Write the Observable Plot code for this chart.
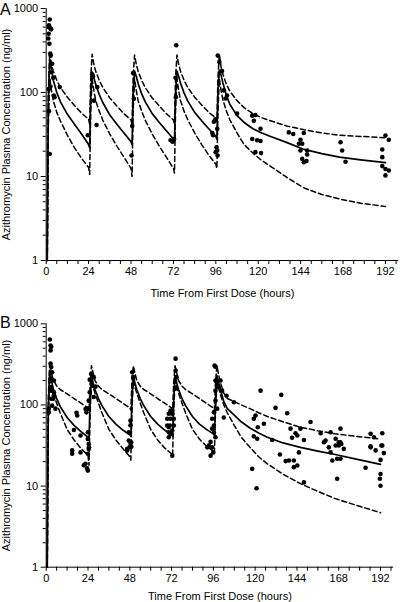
<!DOCTYPE html>
<html><head><meta charset="utf-8">
<script src="https://cdn.jsdelivr.net/npm/d3@7"></script>
<script src="https://cdn.jsdelivr.net/npm/@observablehq/plot@0.6"></script>
<style>
html,body{margin:0;padding:0;background:#fff;}
body{width:400px;height:602px;overflow:hidden;position:relative;font-family:Arial,"Liberation Sans",Helvetica,sans-serif;}
.panel{position:absolute;left:0;width:400px;}
.plabel{position:absolute;left:0;font-size:16px;line-height:16px;color:#000;}
svg{display:block;}
</style></head><body>
<div id="A" class="panel" style="top:0"></div>
<div id="B" class="panel" style="top:300px"></div>
<div class="plabel" style="top:1.5px">A</div>
<div class="plabel" style="top:315px">B</div>
<script>
// ---- axis ticks ----
const yMajor = [1, 10, 100, 1000];
const yMinor = [2,3,4,5,6,7,8,9,20,30,40,50,60,70,80,90,200,300,400,500,600,700,800,900];
const xMajor = [0, 24, 48, 72, 96, 120, 144, 168, 192];
const xMinor = [6,12,18,30,36,42,54,60,66,78,84,90,102,108,114,126,132,138,150,156,162,174,180,186,198];
const yLabel = "Azithromycin Plasma Concentration (ng/ml)";
const xLabel = "Time From First Dose (hours)";

// ---- simulated percentile curves (time grid shared by all curves) ----
const T = [0.6,1.2,2,3,4,6,8,12,16,20,24,
  24.6,25.2,26,27,28,30,32,36,40,44,48,
  48.6,49.2,50,51,52,54,56,60,64,68,72,
  72.6,73.2,74,75,76,78,80,84,88,92,96,
  96.6,97.2,98,99,100,102,104,108,112,117,122,127,136,146,156,166,178,192];

// Panel A
const A_p95 = [1,100,300,215,180,140,115,88,70,57,48,
  42,150,285,215,180,140,115,86,69,56,47,
  41,150,280,215,180,140,115,86,69,56,47,
  42,150,280,215,180,140,116,88,71,58,50,
  45,150,285,200,165,125,103,80,66,56,50,46,40,36,33,31,30,29];
const A_p50 = [1,80,250,190,140,100,78,55,42,32,24,
  22,90,175,150,125,95,76,54,42,33,26,
  24,95,180,155,128,97,78,56,44,35,28,
  26,95,180,155,130,99,80,58,46,37,30,
  28,100,185,160,130,92,72,53,44,37,33,30,25.5,21,18.7,17,15.8,14.6];
const A_p5 = [1,40,150,105,80,58,46,31,22,16.5,12.8,
  10.6,60,145,105,80,60,47,32,23,17,12.5,
  10,60,145,105,80,60,47,32,23,17,12.5,
  11,60,145,105,80,60,48,33,24,18,14,
  12.5,60,145,105,82,60,47,33,24,19,15.5,13.2,9.8,7.3,6.1,5.4,4.8,4.4];

// Panel B
const B_p95 = [1,120,330,250,205,172,155,137,120,105,92,
  85,180,305,245,200,170,155,137,120,105,92,
  86,185,305,245,200,170,155,137,120,105,92,
  86,185,305,245,200,170,155,137,120,105,92,
  86,185,305,240,190,140,120,110,100,90,80,72,62,53,48,44,41,38];
const B_p50 = [1,90,260,200,160,120,96,70,56,47,40,
  38,110,230,185,155,120,98,72,58,49,43,
  41,110,230,185,155,120,98,72,58,49,43,
  41,110,230,185,155,120,98,72,58,50,44,
  42,110,230,190,155,110,90,75,62,52,45,40,34,30,27,24.5,21.5,18.5];
const B_p5 = [1,60,200,165,140,105,80,50,37,29,24,
  18,80,200,165,140,105,80,50,37,29,23,
  21,80,200,165,140,105,80,50,37,29.5,25,
  23.5,80,200,165,140,105,80,50,38,31,27,
  25,80,200,165,135,100,80,56,40,30,23,18.8,14,10.7,8.6,7.0,5.8,4.7];

// ---- observed concentrations ----
const A_obsT = [2,1.6,1.5,2.4,2.8,1.4,1.2,1.8,2.3,2.6,3.4,2.6,4,1.5,2.4,7.7,4.3,4.7,1.5,2,
  23.5,26,26.5,28.9,27,28.5,
  48.3,49.6,48.7,49.2,
  73.6,73.2,73.4,70.4,71.5,72.4,
  97.1,98,99.5,100.5,101.5,102.4,108,95.8,94.9,94.5,94,96.8,96.4,96.8,97,95.9,
  116.6,118.4,117.5,121.3,116.6,119.4,121.3,118.4,121.6,
  137.3,139.8,145.8,143.9,144.9,143,143.9,147.7,147.7,144.9,145.8,147.3,
  166.6,167.5,169.4,
  192,193.9,190.2,190.2,190.2,192,193.9,192];
const A_obsC = [740,630,600,580,565,500,440,380,290,275,220,175,150,110,118,116,92,88,60,18.5,
  31,165,155,116,80,41,
  17.8,84,40,170,
  365,150,88,27,26,28,
  275,230,180,106,85,92,56,48,45,31,33,37,22.3,20.4,17.8,19.5,
  53,54,46,37,28,27,26.5,19.5,19,
  33.5,32,33,27.3,24.5,24.5,20.4,20.4,18.3,16.2,14.8,15.3,
  25.6,20.4,15,
  30.7,27.3,21,17,13.3,12.3,11.8,10.3];

const B_obsT = [2.1,2.5,2.9,2.5,2.5,2.9,3.4,2.5,4.4,2.5,4.4,2.9,4,1.5,2.5,4.4,3.4,1.5,5.3,
  17.4,17.8,22.6,23.9,25,25.8,27.3,26.4,28.3,25,27.3,24.4,15.9,19.7,23.9,23.9,24.4,24.6,14.9,14.9,19.7,21.6,22.6,23.9,23.5,23.1,24.4,23.9,
  49.4,50,47.4,48.4,48.4,46.5,47.9,48.4,47.4,48.8,46.5,48.9,
  74.3,74.3,74.8,74.3,71.4,72.4,70.4,71.4,71,73.3,72.4,70.4,71.4,70.4,69.5,69.5,71.4,73.3,72.4,70.4,
  96.7,97.2,97.2,98,100.1,99.1,101,97.2,103.6,107.8,97.2,98.2,102,96.3,95.3,96.3,95.3,96.3,97.2,95.3,92.5,94.4,93.4,95.9,94.4,
  123.1,135,131.7,138.4,120.2,119.2,125,121.5,119.2,121.2,129.8,140.3,143.2,146,141.2,144.2,148,151.8,157.6,160.4,163.3,169,166.2,168,169.5,186.3,188.2,193,186.3,193,
  118.3,120.8,134.2,137.5,139.4,142.2,144.2,142.2,145.1,148,159.5,162.3,163.3,164.3,166.2,168,169,170.9,167.1,169,167.1,183.4,186.3,189.2,193.9,192,192,191.6,192,192.5];
const B_obsC = [640,540,520,470,323,293,253,210,200,150,143,119,119,90,166,131,98,81,90,
  80,74,89,90,205,241,220,173,168,143,125,113,49,42,46,38,33,30,27.5,25,26,18,18.8,15.5,16.5,81,28.7,25,
  253,220,46,64,56,28.7,30,33,36.5,34.7,27.5,30.5,
  372,265,220,159,81,78,78,67.5,55.7,55.7,48.4,46,44,40,55.7,67.5,85,67.5,23.7,53,
  305,295,200,195,200,166,150,150,130,108,113,90,70,81,67.5,55.7,51,46,40,30,30,35,31.6,26,23.7,
  150,133,92,79,74,67.5,58.5,53,41,38.3,37,51,44.8,51,39.4,42,37,61.6,44.8,36.5,46,51,38.3,34.7,33,44,40,44.8,31,31.6,
  16.3,9.4,24.5,20.3,20.7,20.7,17.9,17.1,26,11.1,34.7,30,26,20.7,31.6,31.6,34.7,28.7,21.7,21.7,12.3,16.8,30,27.5,25.5,21,14.1,12.3,10.1,31.6];

// ---- build tables ----
const curve = (vals) => T.map((t, i) => ({t, c: vals[i]}));
const obs = (ts, cs) => ts.map((t, i) => ({t, c: cs[i]}));

function panel({p95, p50, p5, obsT, obsC, height, marginTop, marginBottom, marginRight, xLabelOffset}) {
  return Plot.plot({
    width: 400,
    height,
    marginLeft: 45.7,
    marginRight,
    marginTop,
    marginBottom,
    style: {fontFamily: "Arial, 'Liberation Sans', Helvetica, sans-serif", fontSize: "11px", color: "#000", background: "#fff", overflow: "visible"},
    x: {domain: [0, 199.5]},
    y: {type: "log", domain: [1, 1000]},
    marks: [
      Plot.axisY({ticks: yMajor, tickSize: 5, tickPadding: 3, tickFormat: d => String(d),
        label: yLabel, labelAnchor: "center", labelArrow: "none", labelOffset: 44}),
      Plot.axisY({ticks: yMinor, tickSize: 3, tickFormat: () => "", label: null}),
      Plot.axisX({ticks: xMajor, tickSize: 4, tickPadding: 3, tickFormat: d => String(d),
        label: xLabel, labelAnchor: "center", labelArrow: "none", labelOffset: xLabelOffset}),
      Plot.axisX({ticks: xMinor, tickSize: 4, tickFormat: () => "", label: null}),
      Plot.ruleX([0], {stroke: "#000", strokeWidth: 1}),
      Plot.ruleY([1], {stroke: "#000", strokeWidth: 1}),
      Plot.line(curve(p95), {x: "t", y: "c", stroke: "#000", strokeWidth: 1.5, strokeDasharray: "5,3"}),
      Plot.line(curve(p5), {x: "t", y: "c", stroke: "#000", strokeWidth: 1.5, strokeDasharray: "5,3"}),
      Plot.line(curve(p50), {x: "t", y: "c", stroke: "#000", strokeWidth: 1.7}),
      Plot.dot(obs(obsT, obsC), {x: "t", y: "c", r: 2.3, fill: "#000", stroke: null})
    ]
  });
}

document.getElementById("A").append(panel({p95: A_p95, p50: A_p50, p5: A_p5, obsT: A_obsT, obsC: A_obsC,
  height: 300, marginTop: 8, marginBottom: 40, marginRight: 1.8, xLabelOffset: 36}));
document.getElementById("B").append(panel({p95: B_p95, p50: B_p50, p5: B_p5, obsT: B_obsT, obsC: B_obsC,
  height: 302, marginTop: 23.3, marginBottom: 35.3, marginRight: 6.9, xLabelOffset: 33}));
</script>
</body></html>
